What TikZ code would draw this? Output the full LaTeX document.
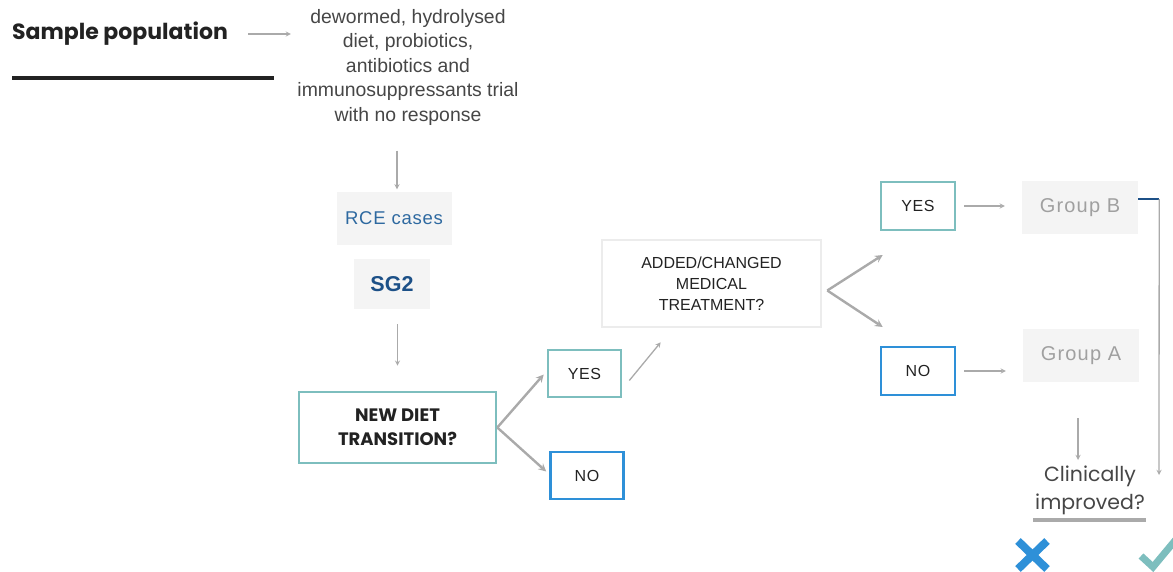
\documentclass[tikz,border=0pt]{standalone}
\usepackage{fontspec}
\setmainfont{Liberation Sans}
\newfontfamily\popfont{Poppins}
\newfontfamily\spfont[LetterSpace=4]{Liberation Sans}
\newfontfamily\widefont[LetterSpace=6]{Liberation Sans}
\usepackage{tikz}
\usetikzlibrary{arrows,positioning}
\definecolor{fcteal}{RGB}{125,190,190}
\definecolor{fcblue}{RGB}{46,144,216}
\definecolor{fcgrey}{RGB}{170,170,170}
\definecolor{fcfill}{RGB}{244,244,244}
\definecolor{fcedge}{RGB}{236,236,236}
\definecolor{fctext}{RGB}{34,34,34}
\definecolor{fcsoft}{RGB}{70,70,70}
\definecolor{fclink}{RGB}{46,105,160}
\definecolor{fcnavy}{RGB}{28,80,135}
\definecolor{fcpale}{RGB}{160,160,160}
\tikzstyle{arr} = [line width=1.3pt,->,>=stealth,color=fcgrey]
\tikzstyle{fork} = [line width=2.4pt,->,>=stealth,color=fcgrey]
\tikzstyle{greybox} = [rectangle, fill=fcfill, inner sep=0pt, text centered]
\tikzstyle{yesbox} = [rectangle, draw=fcteal, line width=2.6pt, minimum width=73pt, minimum height=47pt, inner sep=0pt, text=fctext, font=\spfont\fontsize{16}{19}\selectfont]
\tikzstyle{nobox} = [yesbox, draw=fcblue]

\begin{document}
\begin{tikzpicture}[x=1pt, y=-1pt]
    \useasboundingbox (0,0) rectangle (1173,571);

    % Sample population header
    \node[font=\popfont\bfseries\fontsize{22}{26}\selectfont, text=fctext] (samp) at (120,34) {Sample population};
    \draw[line width=4pt, color=fctext] (12,78) -- (274,78);
    \node[align=center, text=fcsoft, font=\fontsize{19.4}{24.5}\selectfont] (trial) at (408,67)
        {dewormed, hydrolysed\\diet, probiotics,\\antibiotics and\\immunosuppressants trial\\with no response};

    % Left column
    \node[greybox, minimum width=115pt, minimum height=53pt, text=fclink, font=\spfont\fontsize{18.5}{21}\selectfont] (rce) at (394,218) {RCE cases};
    \node[greybox, minimum width=76pt, minimum height=50pt, text=fcnavy, font=\bfseries\fontsize{21.5}{24}\selectfont] (sg) at (392,284) {SG2};
    \node[yesbox, minimum width=197pt, minimum height=71pt, align=center, font=\popfont\bfseries\fontsize{18}{24}\selectfont] (diet) at (397.5,427.5) {NEW DIET\\TRANSITION?};

    % First decision
    \node[yesbox] (yes1) at (584.5,373.5) {YES};
    \node[nobox] (no1) at (587,475.5) {NO};
    \node[yesbox, draw=fcedge, minimum width=219pt, minimum height=87pt, align=center, font=\fontsize{16}{21}\selectfont] (med) at (711.5,283.5) {ADDED/CHANGED\\MEDICAL\\TREATMENT?};

    % Second decision
    \node[yesbox, minimum width=74pt, minimum height=48pt] (yes2) at (918,206) {YES};
    \node[nobox, minimum width=74pt, minimum height=48pt] (no2) at (918,371) {NO};
    \node[greybox, minimum width=116pt, minimum height=53pt, text=fcpale, font=\widefont\fontsize{20}{23}\selectfont] (grpB) at (1080,207.5) {Group B};
    \node[greybox, minimum width=116pt, minimum height=53pt, text=fcpale, font=\widefont\fontsize{20}{23}\selectfont] (grpA) at (1081,355.5) {Group A};

    % Outcome
    \node[align=center, text=fcsoft, font=\popfont\fontsize{20.5}{28}\selectfont] (clin) at (1090,490) {Clinically\\improved?};
    \draw[line width=4pt, color=fcgrey] (1033,520) -- (1146,520);
    \draw[line width=8pt, color=fcblue] (1018,541) -- (1047,569);
    \draw[line width=8pt, color=fcblue] (1018,569) -- (1047,541);
    \draw[line width=7pt, color=fcteal] (1141,556) -- (1153,567) -- (1178,537);

    % Connections
    \draw[arr, shorten <=17pt, shorten >=3pt] (samp.east) -- (samp.east -| trial.west);
    \draw[arr, shorten <=22pt, shorten >=2pt] ([xshift=-11pt]trial.south) -- ([xshift=-11pt]trial.south |- rce.north);
    \draw[arr, shorten <=15pt, shorten >=25pt] (diet.north |- sg.south) -- (diet.north);
    \draw[fork] (diet.east) -- ([shift={(-3,1)}]yes1.west);
    \draw[fork] (diet.east) -- ([shift={(-3,-4)}]no1.west);
    \draw[arr] ([shift={(7,7)}]yes1.east) -- ([shift={(60,14)}]med.south west);
    \draw[fork] ([shift={(5,7)}]med.east) -- ([shift={(3,49)}]yes2.west);
    \draw[fork] ([shift={(5,7)}]med.east) -- ([shift={(3,-44)}]no2.west);
    \draw[arr, shorten <=8pt, shorten >=17pt] (yes2.east) -- (yes2.east -| grpB.west);
    \draw[arr, shorten <=8pt, shorten >=17pt] (no2.east) -- (no2.east -| grpA.west);
    \coordinate (bend) at ([shift={(21,-8.5)}]grpB.east);
    \coordinate (tipB) at (1159,475);
    \draw[line width=1.8pt, color=fcnavy] ([shift={(0,-8.5)}]grpB.east) -- (bend);
    \draw[arr] (bend) -- (tipB);
    \draw[arr, shorten <=36pt, shorten >=2pt] ([xshift=-3pt]grpA.south) -- ([xshift=-3pt]grpA.south |- clin.north);
\end{tikzpicture}
\end{document}
